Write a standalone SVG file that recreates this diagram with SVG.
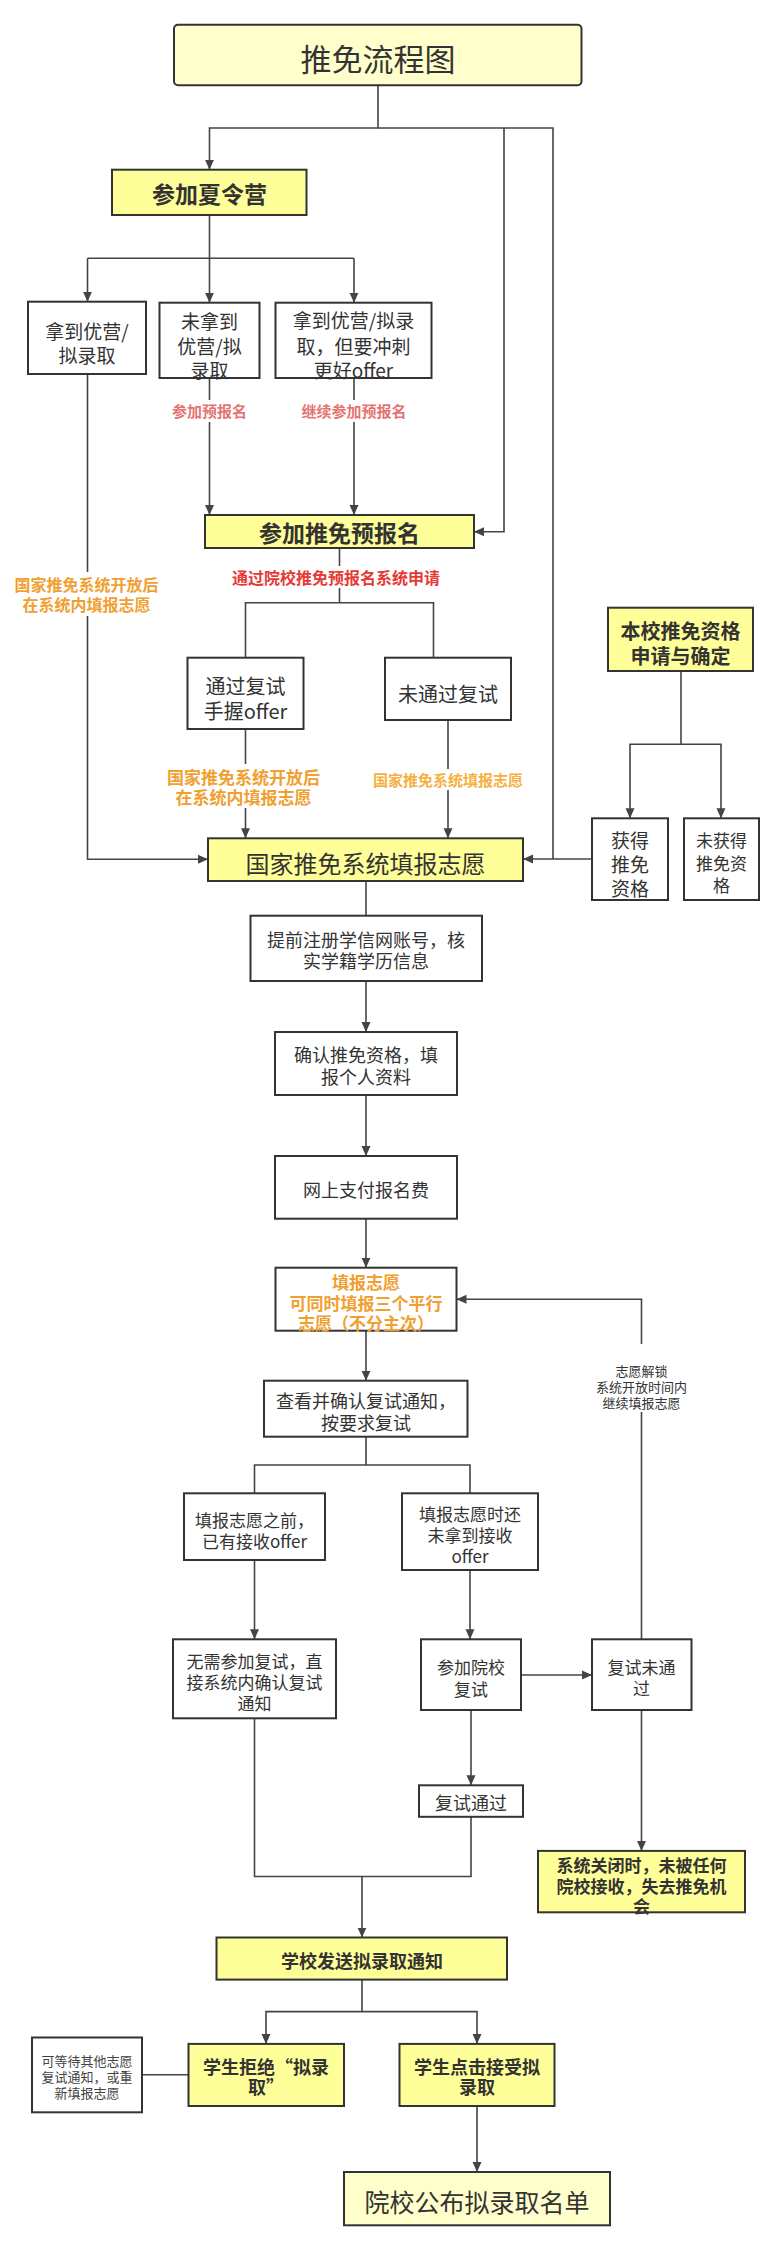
<svg xmlns="http://www.w3.org/2000/svg" width="784" height="2264" viewBox="0 0 784 2264">
<style>
.bx{fill:#fff;stroke:#333;stroke-width:2}
.y{fill:#FFFF99}
.p{fill:#FFFFCC}
text{font-family:"Noto Sans CJK SC","Noto Sans",sans-serif;fill:#333;text-anchor:middle;dominant-baseline:central}
.b{font-weight:bold}
.c{fill:none;stroke:#444;stroke-width:1.6}
.a{marker-end:url(#ar)}
.bg{fill:#fff}
.red{fill:#E53935;font-weight:bold}
.pink{fill:#E57373;font-weight:bold}
.org{fill:#F0A030;font-weight:bold}
.org2{fill:#F5B041;font-weight:bold}
</style>
<defs>
<marker id="ar" markerWidth="10" markerHeight="10" refX="10" refY="5" orient="auto" markerUnits="userSpaceOnUse">
<path d="M0,0.5 L10,5 L0,9.5 z" fill="#444"/>
</marker>
</defs>
<rect width="784" height="2264" fill="#fff"/>

<g id="connectors">
<path class="c a" d="M378,85 V128 H209.5 V169.7"/>
<path class="c" d="M378,128 H553 V859"/>
<path class="c a" d="M504,128 V531.7 H474"/>
<path class="c" d="M209.5,215 V258.3 M87.5,258.3 H354"/>
<path class="c a" d="M87.5,258.3 V301.7"/>
<path class="c a" d="M209.5,258.3 V302.7"/>
<path class="c a" d="M354,258.3 V302.7"/>
<path class="c a" d="M87.5,374 V859.3 H208"/>
<path class="c a" d="M209.5,378 V515"/>
<path class="c a" d="M354,378 V515"/>
<path class="c" d="M339.5,548 V602.7 M245.5,657.7 V602.7 H433.5 V657.7"/>
<path class="c a" d="M245.5,729 V838.3"/>
<path class="c a" d="M448,720 V838.3"/>
<path class="c a" d="M592,859 H523"/>
<path class="c" d="M681,671 V744.3"/>
<path class="c a" d="M681,744.3 H630 V818.3"/>
<path class="c a" d="M681,744.3 H721 V818.3"/>
<path class="c" d="M366,881 V915.7"/>
<path class="c a" d="M366,981 V1032"/>
<path class="c a" d="M366,1095 V1156"/>
<path class="c a" d="M366,1218.7 V1267.7"/>
<path class="c a" d="M641.5,1639.3 V1299.3 H456.5"/>
<path class="c a" d="M366,1330.7 V1380.7"/>
<path class="c" d="M366,1436.7 V1465 M254.5,1493.3 V1465 H470 V1493.3"/>
<path class="c a" d="M254.5,1560 V1639.3"/>
<path class="c a" d="M470,1570 V1639.3"/>
<path class="c a" d="M521,1675 H592"/>
<path class="c" d="M254.5,1718.3 V1876.5 H471 V1816.8"/>
<path class="c a" d="M471,1710 V1785.3"/>
<path class="c a" d="M362,1876.5 V1937.5"/>
<path class="c a" d="M641.5,1710 V1850.9"/>
<path class="c" d="M362,1979.6 V2011.6"/>
<path class="c a" d="M362,2011.6 H266 V2043.9"/>
<path class="c a" d="M362,2011.6 H477 V2043.9"/>
<path class="c" d="M142,2074.7 H188.5"/>
<path class="c a" d="M477,2106 V2172"/>

<rect class="bg" x="168" y="400" width="84" height="22"/>
<text class="pink" x="209.5" y="410.7" font-size="15">参加预报名</text>
<rect class="bg" x="298" y="400" width="112" height="22"/>
<text class="org2" x="354" y="410.7" font-size="15" style="fill:#E57373">继续参加预报名</text>
<rect class="bg" x="230" y="566" width="214" height="22"/>
<text class="red" x="336" y="577.3" font-size="16">通过院校推免预报名系统申请</text>
<rect class="bg" x="12" y="572" width="150" height="44"/>
<text class="org" x="86.5" y="584.3" font-size="16">国家推免系统开放后</text>
<text class="org" x="86.5" y="604" font-size="16">在系统内填报志愿</text>
<rect class="bg" x="165" y="764" width="158" height="44"/>
<text class="org" x="243.5" y="776" font-size="17">国家推免系统开放后</text>
<text class="org" x="243.5" y="796" font-size="17">在系统内填报志愿</text>
<rect class="bg" x="372" y="769" width="152" height="21"/>
<text class="org2" x="448" y="779.3" font-size="15">国家推免系统填报志愿</text>
<rect class="bg" x="594" y="1344" width="95" height="68"/>
<text x="641.5" y="1370" font-size="13">志愿解锁</text>
<text x="641.5" y="1386.7" font-size="13">系统开放时间内</text>
<text x="641.5" y="1402.7" font-size="13">继续填报志愿</text>
</g>

<g id="n-title"><rect class="bx p" x="174" y="24.7" width="407.5" height="60.6" rx="4"/><text x="378" y="57" font-size="31">推免流程图</text></g>
<g id="n-camp"><rect class="bx y" x="112" y="169.7" width="194.5" height="45.3"/><text class="b" x="209.5" y="192.5" font-size="23">参加夏令营</text></g>
<g id="n-a"><rect class="bx" x="28" y="301.7" width="118" height="72.3"/><text x="87" y="330" font-size="19">拿到优营/</text><text x="87" y="354" font-size="19">拟录取</text></g>
<g id="n-b"><rect class="bx" x="159.5" y="302.7" width="100" height="75.3"/><text x="209.5" y="320" font-size="19">未拿到</text><text x="209.5" y="345" font-size="19">优营/拟</text><text x="209.5" y="369.3" font-size="19">录取</text></g>
<g id="n-c"><rect class="bx" x="275.5" y="302.7" width="156" height="75.3"/><text x="353.5" y="319" font-size="19">拿到优营/拟录</text><text x="353.5" y="345" font-size="19">取，但要冲刺</text><text x="353.5" y="369.3" font-size="19">更好offer</text></g>
<g id="n-pre"><rect class="bx y" x="205" y="515" width="269" height="33"/><text class="b" x="339.5" y="532" font-size="23">参加推免预报名</text></g>
<g id="n-pass"><rect class="bx" x="187.5" y="657.7" width="116" height="71.3"/><text x="245.5" y="685" font-size="20">通过复试</text><text x="245.5" y="710" font-size="20">手握offer</text></g>
<g id="n-fail"><rect class="bx" x="385" y="657.7" width="126" height="62.3"/><text x="448" y="693.3" font-size="20">未通过复试</text></g>
<g id="n-school"><rect class="bx y" x="608" y="607.7" width="145" height="63.3"/><text class="b" x="680.5" y="630" font-size="20">本校推免资格</text><text class="b" x="680.5" y="655" font-size="20">申请与确定</text></g>
<g id="n-get"><rect class="bx" x="592" y="818.3" width="76" height="81.7"/><text x="630" y="839" font-size="19">获得</text><text x="630" y="863" font-size="19">推免</text><text x="630" y="887" font-size="19">资格</text></g>
<g id="n-notget"><rect class="bx" x="684" y="818.3" width="75" height="81.7"/><text x="721.5" y="839" font-size="17">未获得</text><text x="721.5" y="862" font-size="17">推免资</text><text x="721.5" y="884" font-size="17">格</text></g>
<g id="n-nat"><rect class="bx y" x="208" y="838.3" width="315" height="42.7"/><text x="365.5" y="862" font-size="24">国家推免系统填报志愿</text></g>
<g id="n-reg"><rect class="bx" x="250.5" y="915.7" width="231.5" height="65.3"/><text x="366" y="939.3" font-size="18">提前注册学信网账号，核</text><text x="366" y="960" font-size="18">实学籍学历信息</text></g>
<g id="n-confirm"><rect class="bx" x="275" y="1032" width="182" height="63"/><text x="366" y="1054" font-size="18">确认推免资格，填</text><text x="366" y="1075.7" font-size="18">报个人资料</text></g>
<g id="n-pay"><rect class="bx" x="275" y="1156" width="182" height="62.7"/><text x="366" y="1189.3" font-size="18">网上支付报名费</text></g>
<g id="n-fill"><rect class="bx" x="275.5" y="1267.7" width="181" height="63"/><text class="org" x="366" y="1281.7" font-size="17">填报志愿</text><text class="org" x="366" y="1302.7" font-size="17">可同时填报三个平行</text><text class="org" x="366" y="1322.7" font-size="17">志愿（不分主次）</text></g>
<g id="n-check"><rect class="bx" x="264" y="1380.7" width="203.5" height="56"/><text x="366" y="1400" font-size="18">查看并确认复试通知，</text><text x="366" y="1421.7" font-size="18">按要求复试</text></g>
<g id="n-had"><rect class="bx" x="184" y="1493.3" width="141" height="66.7"/><text x="254.5" y="1519.3" font-size="17">填报志愿之前，</text><text x="254.5" y="1540.7" font-size="17">已有接收offer</text></g>
<g id="n-not"><rect class="bx" x="402" y="1493.3" width="136" height="76.7"/><text x="470" y="1513.3" font-size="17">填报志愿时还</text><text x="470" y="1534" font-size="17">未拿到接收</text><text x="470" y="1555.7" font-size="17">offer</text></g>
<g id="n-noneed"><rect class="bx" x="173" y="1639.3" width="163" height="79"/><text x="254.5" y="1660.7" font-size="17">无需参加复试，直</text><text x="254.5" y="1681.7" font-size="17">接系统内确认复试</text><text x="254.5" y="1702.7" font-size="17">通知</text></g>
<g id="n-attend"><rect class="bx" x="421" y="1639.3" width="100" height="70.7"/><text x="471" y="1666.7" font-size="17">参加院校</text><text x="471" y="1688.3" font-size="17">复试</text></g>
<g id="n-nopass"><rect class="bx" x="592" y="1639.3" width="99.5" height="70.7"/><text x="641.5" y="1666.7" font-size="17">复试未通</text><text x="641.5" y="1687.3" font-size="17">过</text></g>
<g id="n-passed"><rect class="bx" x="419" y="1785.3" width="104" height="31.5"/><text x="471" y="1802" font-size="18">复试通过</text></g>
<g id="n-closed"><rect class="bx y" x="538" y="1850.9" width="207" height="61.4"/><text class="b" x="641.5" y="1864.2" font-size="17">系统关闭时，未被任何</text><text class="b" x="641.5" y="1885" font-size="17">院校接收，失去推免机</text><text class="b" x="641.5" y="1905.3" font-size="17">会</text></g>
<g id="n-send"><rect class="bx y" x="216.5" y="1937.5" width="290.5" height="42.1"/><text class="b" x="362" y="1959.5" font-size="18">学校发送拟录取通知</text></g>
<g id="n-reject"><rect class="bx y" x="188.5" y="2043.9" width="155.5" height="62.1"/><text class="b" x="266" y="2066" font-size="18">学生拒绝“拟录</text><text class="b" x="266" y="2086" font-size="18">取”</text></g>
<g id="n-accept"><rect class="bx y" x="399.5" y="2043.9" width="155" height="62.1"/><text class="b" x="477" y="2066" font-size="18">学生点击接受拟</text><text class="b" x="477" y="2086" font-size="18">录取</text></g>
<g id="n-note"><rect class="bx" x="32" y="2037.5" width="110" height="74.8"/><text x="87" y="2060.4" font-size="13" style="fill:#444">可等待其他志愿</text><text x="87" y="2076" font-size="13" style="fill:#444">复试通知，或重</text><text x="87" y="2092" font-size="13" style="fill:#444">新填报志愿</text></g>
<g id="n-final"><rect class="bx p" x="344" y="2172" width="266" height="53.3"/><text x="477" y="2200.5" font-size="25">院校公布拟录取名单</text></g>
</svg>
